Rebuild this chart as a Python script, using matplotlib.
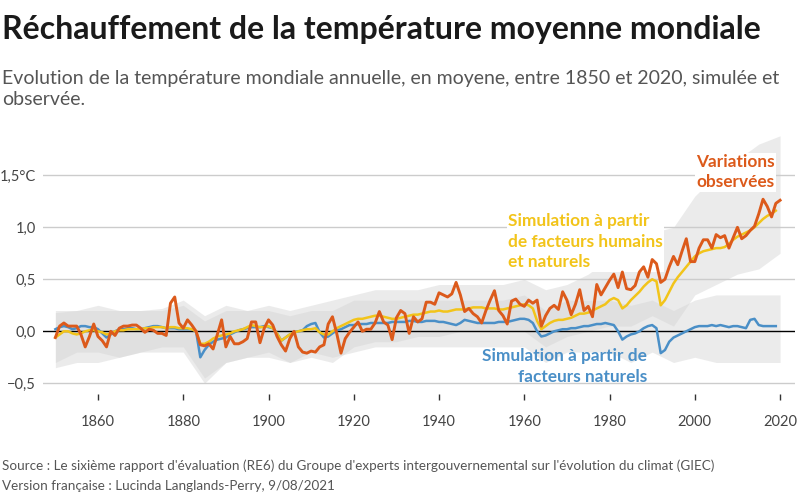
import matplotlib
matplotlib.use('Agg')

import numpy as np
import matplotlib.pyplot as plt

plt.rcParams['font.family'] = ['Lato', 'DejaVu Sans']

# observed annual mean (deg C, relative to 1850-1900)
annees_obs = list(range(1850, 2021))
observe = [
    -0.06, 0.05, 0.08, 0.05, 0.05, 0.05, -0.03, -0.15, -0.05, 0.07,
    -0.05, -0.09, -0.15, 0.0, -0.04, 0.03, 0.05, 0.05, 0.06, 0.06,
    0.03, -0.01, 0.02, 0.01, -0.02, -0.02, -0.04, 0.27, 0.33, 0.08,
    0.03, 0.11, 0.06, 0.0, -0.13, -0.14, -0.12, -0.17, -0.03, 0.11,
    -0.15, -0.05, -0.12, -0.12, -0.10, -0.07, 0.09, 0.09, -0.11, 0.03,
    0.11, 0.06, -0.05, -0.13, -0.19, -0.07, 0.0, -0.15, -0.20, -0.21,
    -0.19, -0.20, -0.15, -0.13, 0.07, 0.14, -0.02, -0.21, -0.07, -0.01,
    0.04, 0.09, 0.0, 0.02, 0.02, 0.08, 0.19, 0.09, 0.06, -0.08,
    0.13, 0.20, 0.17, -0.02, 0.14, 0.09, 0.12, 0.28, 0.28, 0.26,
    0.37, 0.35, 0.33, 0.36, 0.47, 0.35, 0.19, 0.22, 0.17, 0.14,
    0.08, 0.20, 0.30, 0.39, 0.20, 0.15, 0.07, 0.29, 0.31, 0.26,
    0.24, 0.30, 0.27, 0.30, 0.05, 0.15, 0.22, 0.25, 0.21, 0.38,
    0.30, 0.16, 0.26, 0.40, 0.20, 0.24, 0.14, 0.45, 0.35, 0.42,
    0.49, 0.55, 0.42, 0.57, 0.41, 0.40, 0.44, 0.57, 0.62, 0.52,
    0.69, 0.65, 0.47, 0.50, 0.62, 0.72, 0.64, 0.77, 0.89, 0.67,
    0.67, 0.80, 0.88, 0.88, 0.80, 0.93, 0.90, 0.92, 0.80, 0.90,
    1.00, 0.89, 0.92, 0.97, 1.01, 1.13, 1.27, 1.20, 1.10, 1.23,
    1.26,
]

# simulations (multi-model means)
annees_sim = list(range(1850, 2020))
humains_naturels = [
    -0.06, -0.03, 0.0, 0.0, -0.02, -0.03, -0.02, 0.0, 0.01, 0.01,
    0.0, -0.01, -0.03, -0.02, 0.0, 0.01, 0.01, 0.02, 0.02, 0.02,
    0.02, 0.03, 0.03, 0.04, 0.04, 0.04, 0.03, 0.04, 0.04, 0.03,
    0.03, 0.03, 0.02, 0.0, -0.12, -0.12, -0.10, -0.07, -0.05, -0.04,
    -0.03, -0.02, 0.0, 0.01, 0.02, 0.04, 0.06, 0.05, 0.04, 0.04,
    0.05, 0.03, -0.02, -0.09, -0.06, -0.03, -0.01, 0.0, 0.01, 0.02,
    0.02, 0.03, -0.01, -0.03, -0.03, 0.0, 0.03, 0.05, 0.07, 0.09,
    0.11, 0.12, 0.12, 0.13, 0.14, 0.15, 0.15, 0.14, 0.13, 0.12,
    0.12, 0.13, 0.14, 0.15, 0.16, 0.16, 0.17, 0.18, 0.19, 0.19,
    0.20, 0.19, 0.19, 0.20, 0.21, 0.21, 0.21, 0.22, 0.23, 0.23,
    0.23, 0.22, 0.22, 0.22, 0.21, 0.21, 0.22, 0.23, 0.24, 0.25,
    0.26, 0.25, 0.22, 0.10, 0.02, 0.05, 0.08, 0.10, 0.11, 0.11,
    0.12, 0.13, 0.15, 0.17, 0.17, 0.18, 0.20, 0.22, 0.24, 0.26,
    0.30, 0.32, 0.30, 0.22, 0.25, 0.30, 0.34, 0.38, 0.43, 0.47,
    0.50, 0.48, 0.25, 0.30, 0.38, 0.46, 0.52, 0.57, 0.62, 0.67,
    0.72, 0.75, 0.77, 0.78, 0.79, 0.80, 0.80, 0.81, 0.84, 0.88,
    0.91, 0.93, 0.95, 0.97, 1.00, 1.04, 1.08, 1.11, 1.13, 1.16,
]
naturels = [
    0.02, 0.04, 0.05, 0.04, 0.02, 0.03, 0.05, 0.05, 0.04, 0.04,
    0.02, -0.02, -0.06, -0.03, 0.0, 0.02, 0.02, 0.03, 0.03, 0.02,
    0.02, 0.03, 0.04, 0.05, 0.05, 0.04, 0.03, 0.03, 0.03, 0.02,
    0.02, 0.02, 0.02, 0.0, -0.25, -0.18, -0.13, -0.10, -0.08, -0.07,
    -0.06, -0.03, -0.01, 0.01, 0.02, 0.03, 0.04, 0.04, 0.04, 0.05,
    0.04, 0.03, -0.02, -0.09, -0.06, -0.03, -0.01, 0.0, 0.01, 0.05,
    0.07, 0.08, -0.01, -0.06, -0.05, -0.02, 0.01, 0.02, 0.04, 0.06,
    0.06, 0.07, 0.07, 0.07, 0.08, 0.08, 0.08, 0.08, 0.08, 0.09,
    0.09, 0.09, 0.09, 0.10, 0.10, 0.09, 0.09, 0.10, 0.10, 0.10,
    0.09, 0.09, 0.08, 0.07, 0.06, 0.08, 0.11, 0.10, 0.09, 0.08,
    0.08, 0.08, 0.08, 0.08, 0.09, 0.09, 0.09, 0.10, 0.11, 0.12,
    0.12, 0.11, 0.08, 0.0, -0.05, -0.04, -0.02, 0.0, 0.01, 0.02,
    0.02, 0.03, 0.03, 0.04, 0.05, 0.05, 0.06, 0.07, 0.07, 0.08,
    0.07, 0.06, 0.0, -0.08, -0.05, -0.03, -0.02, 0.0, 0.03, 0.05,
    0.06, 0.03, -0.21, -0.18, -0.10, -0.06, -0.04, -0.02, 0.0, 0.02,
    0.04, 0.05, 0.05, 0.05, 0.06, 0.05, 0.06, 0.05, 0.04, 0.05,
    0.05, 0.04, 0.03, 0.11, 0.12, 0.06, 0.05, 0.05, 0.05, 0.05,
]

# model ranges (5-year steps)
annees_plage = list(range(1850, 2021, 5))
hum_haut = [0.18, 0.20, 0.25, 0.20, 0.20, 0.22, 0.30, 0.15, 0.25, 0.20,
            0.25, 0.20, 0.25, 0.30, 0.35, 0.40, 0.40, 0.40, 0.45, 0.45,
            0.45, 0.45, 0.50, 0.40, 0.45, 0.55, 0.70, 0.80, 0.95, 1.00,
            1.30, 1.50, 1.65, 1.80, 1.88]
hum_bas = [-0.30, -0.20, -0.20, -0.25, -0.20, -0.15, -0.15, -0.45, -0.30, -0.25,
           -0.20, -0.30, -0.25, -0.30, -0.15, -0.10, -0.10, -0.05, -0.05, 0.0,
           0.0, 0.0, 0.0, -0.15, -0.05, 0.0, 0.05, 0.05, 0.15, 0.05,
           0.35, 0.45, 0.55, 0.60, 0.75]
nat_haut = [0.20, 0.20, 0.20, 0.20, 0.20, 0.20, 0.25, 0.10, 0.20, 0.20,
            0.20, 0.15, 0.20, 0.20, 0.30, 0.30, 0.30, 0.30, 0.30, 0.30,
            0.30, 0.30, 0.35, 0.20, 0.30, 0.30, 0.30, 0.25, 0.30, 0.20,
            0.30, 0.35, 0.35, 0.35, 0.35]
nat_bas = [-0.35, -0.30, -0.30, -0.25, -0.20, -0.20, -0.20, -0.50, -0.30, -0.25,
           -0.25, -0.30, -0.20, -0.25, -0.20, -0.15, -0.15, -0.15, -0.15, -0.15,
           -0.15, -0.15, -0.15, -0.30, -0.20, -0.20, -0.20, -0.30, -0.20, -0.30,
           -0.25, -0.30, -0.30, -0.30, -0.30]

x_ticks = [1860, 1880, 1900, 1920, 1940, 1960, 1980, 2000, 2020]
y_ticks = [-0.5, 0.0, 0.5, 1.0, 1.5]
y_labels = ['\u22120,5', '0,0', '0,5', '1,0', '1,5\u00b0C']

ORANGE = '#dc5a1b'
JAUNE = '#f2c41a'
BLEU = '#4a8fc7'

fig = plt.figure(figsize=(8, 4.97), dpi=100)
ax = fig.add_axes([43 / 800, 1 - 393.7 / 497, 752 / 800, (393.7 - 128.5) / 497])

ax.fill_between(annees_plage, nat_bas, nat_haut, color='#d4d4d4', alpha=0.45, lw=0)
ax.fill_between(annees_plage, hum_bas, hum_haut, color='#d4d4d4', alpha=0.45, lw=0)

for v in y_ticks:
    ax.axhline(v, color='#000000' if v == 0 else '#cccccc', lw=1, zorder=1)

ax.plot(annees_sim, naturels, color=BLEU, lw=1.8, zorder=3)
ax.plot(annees_sim, humains_naturels, color=JAUNE, lw=1.8, zorder=3)
ax.plot(annees_obs, observe, color=ORANGE, lw=2.1, zorder=4)

ax.set_xlim(1847.1, 2023.5)
ax.set_ylim(-0.6, 1.95)
for s in ax.spines.values():
    s.set_visible(False)
ax.set_xticks(x_ticks)
ax.set_yticks(y_ticks)
ax.set_yticklabels(y_labels)
ax.tick_params(axis='x', length=4, width=1, color='#333333', pad=11,
               labelsize=10.5, labelcolor='#444444')
ax.tick_params(axis='y', length=0, pad=5, labelsize=10.5, labelcolor='#444444')

boite = dict(facecolor='white', edgecolor='none', pad=1)
ax.text(2018.7, 1.53, 'Variations\nobservées', color=ORANGE, fontsize=12.4,
        fontweight='bold', ha='right', va='center', linespacing=1.35, bbox=boite)
ax.text(1956.2, 0.86, 'Simulation à partir\nde facteurs humains\net naturels', color=JAUNE,
        fontsize=12.4, fontweight='bold', ha='left', va='center', linespacing=1.35, bbox=boite)
ax.text(1988.8, -0.34, 'Simulation à partir de\nfacteurs naturels', color=BLEU,
        fontsize=12.4, fontweight='bold', ha='right', va='center', linespacing=1.35)

fig.text(2 / 800, 1 - 30 / 497, 'Réchauffement de la température moyenne mondiale',
         fontsize=23, fontweight='bold', color='#1a1a1a', va='center')
fig.text(2 / 800, 1 - 89 / 497,
         'Evolution de la température mondiale annuelle, en moyene, entre 1850 et 2020, simulée et\nobservée.',
         fontsize=14, color='#555555', va='center', linespacing=1.3)
fig.text(2 / 800, 1 - 466 / 497,
         "Source : Le sixième rapport d'évaluation (RE6) du Groupe d'experts intergouvernemental sur l'évolution du climat (GIEC)",
         fontsize=9.7, color='#555555', va='center')
fig.text(2 / 800, 1 - 486 / 497, 'Version française : Lucinda Langlands-Perry, 9/08/2021',
         fontsize=9.7, color='#555555', va='center')

plt.savefig('out.png', dpi=100)
